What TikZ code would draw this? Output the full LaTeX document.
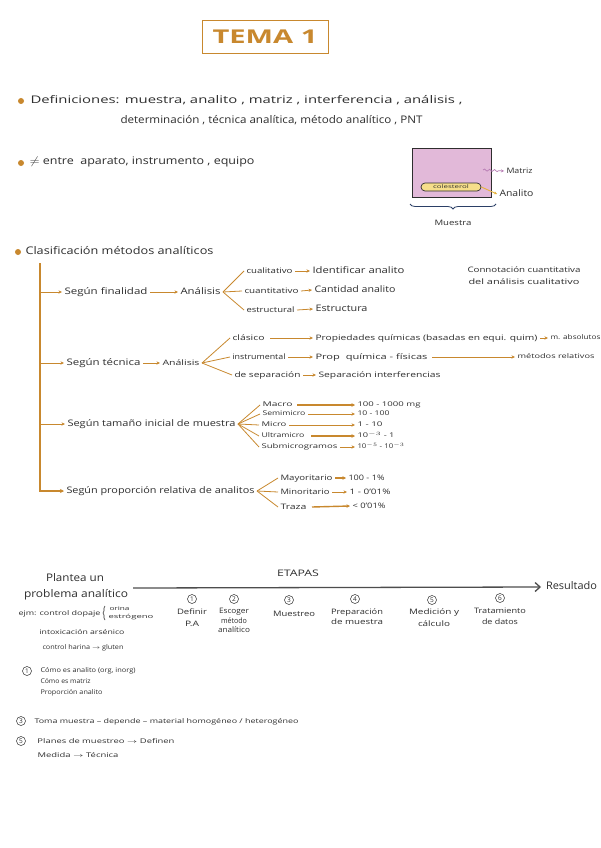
\documentclass[tikz,border=0pt]{standalone}
\usepackage{fontspec}
\setmainfont{Open Sans}
\usepackage{graphicx}
\usetikzlibrary{arrows.meta,decorations.pathmorphing,decorations.pathreplacing}
\definecolor{ora}{HTML}{C8882E}
\definecolor{ink}{HTML}{2E2E2E}
\definecolor{pinkf}{HTML}{E2B9D9}
\definecolor{yel}{HTML}{F6DE8A}
\definecolor{navy}{HTML}{2B3F66}
\definecolor{pinkarr}{HTML}{B77BB4}
\definecolor{yelarr}{HTML}{E6B23A}
\newsavebox\fwbox
\newcommand\fw[2]{\sbox\fwbox{#2}\pgfmathsetmacro\fwf{#1/\the\wd\fwbox}\scalebox{\fwf}[1]{\usebox\fwbox}}
\tikzset{
  base/.style={anchor=west, inner sep=0pt, outer sep=2.5pt, text=ink},
  tL/.style={base, font=\fontsize{10.5}{12}\selectfont, text height=7.5pt, text depth=2pt},
  tM/.style={base, font=\fontsize{9}{11}\selectfont, text height=6.5pt, text depth=1.8pt},
  tS/.style={base, font=\fontsize{7.5}{9}\selectfont, text height=5.5pt, text depth=1.5pt},
  tX/.style={base, font=\fontsize{6.5}{8}\selectfont, text height=4.8pt, text depth=1.3pt},
  stepl/.style={inner sep=0pt, align=center, text=ink},
  bul/.style={circle, fill=ora, inner sep=0pt, minimum size=6pt},
  numc/.style={circle, draw=ink, line width=0.5pt, inner sep=0pt, minimum size=9pt, font=\fontsize{6.5}{7}\selectfont, text=ink},
  arr/.style={draw=ora, line width=0.8pt, -{Stealth[length=3.5pt,width=3.2pt]}},
  tarr/.style={draw=ora, line width=1.4pt, -{Stealth[length=3.5pt,width=3.5pt]}},
  fork/.style={draw=ora, line width=0.8pt},
  trunk/.style={draw=ora, line width=1.3pt},
  bigarr/.style={draw=ink!85, line width=1.3pt, -{Straight Barb[length=5pt,width=9pt]}},
}
\begin{document}
\begin{tikzpicture}[x=1pt,y=-1pt]
\useasboundingbox (0,0) rectangle (600,848);
\fill[white] (0,0) rectangle (600,848);

% title
\node[draw=ora, line width=0.9pt, minimum width=126pt, minimum height=33pt, inner sep=0pt,
      text=ora, font=\fontsize{19}{20}\selectfont\bfseries] (title) at (265,37) {\fw{105}{TEMA 1}};

% definiciones
\node[bul] (b1) at (21,101) {};
\node[tL] (def1) at (28,101) {\fw{432}{Definiciones: muestra, analito , matriz , interferencia , análisis ,}};
\node[tL] (def2) at (118,121) {\fw{302}{determinación , técnica analítica, método analítico , PNT}};

% diferencias
\node[bul] (b2) at (21,163) {};
\node[tL] (neq) at (27,162) {\fw{225}{$\neq$ entre\ \ aparato, instrumento , equipo}};

% sample box
\node[draw=ink, fill=pinkf, line width=0.8pt, minimum width=79pt, minimum height=49pt, inner sep=0pt] (box) at (451.5,172.5) {};
\node[draw=ink, fill=yel, line width=0.7pt, rounded corners=4pt, minimum width=60pt, minimum height=8pt, inner sep=0pt,
      font=\fontsize{5}{5}\selectfont, text=ink] (col) at (451,187) {\fw{36}{colesterol}};
\node[tS] (matriz) at (504,171) {\fw{26}{Matriz}};
\node[tM] (analito) at (497,194) {\fw{34}{Analito}};
\coordinate (mw) at (483,170);
\draw[draw=pinkarr, line width=0.7pt, decorate, decoration={snake, amplitude=1pt, segment length=5pt, post length=3pt}, -{Stealth[length=3pt,width=3pt]}] (mw) -- (matriz.west);
\draw[draw=yelarr, line width=0.9pt, -{Stealth[length=3pt,width=3pt]}] (col.east) -- (analito.west);
\coordinate (brL) at (410,204);
\coordinate (brR) at (496,204);
\draw[navy, line width=0.8pt, decorate, decoration={brace, mirror, amplitude=5pt}] (brL) -- (brR);
\node[tS, anchor=center] (muestra) at (453,223) {\fw{37}{Muestra}};

% clasificacion
\node[bul] (b3) at (18,252) {};
\node[tL] (clas) at (23,252) {\fw{188}{Clasificación métodos analíticos}};
\coordinate (ttop) at (40,263);
\coordinate (t1) at (40,292);
\coordinate (t2) at (40,363);
\coordinate (t3) at (40,424);

% segun finalidad
\node[tM] (s1) at (62,292) {\fw{83}{Según finalidad}};
\node[tM] (an1) at (178,292) {\fw{40}{Análisis}};
\node[tS] (cual) at (244,271) {\fw{46}{cualitativo}};
\node[tS] (cuan) at (242,291) {\fw{54}{cuantitativo}};
\node[tS] (estr) at (244,310) {\fw{48}{estructural}};
\node[tM] (idf) at (310,271) {\fw{92}{Identificar analito}};
\node[tM] (cant) at (312,290) {\fw{81}{Cantidad analito}};
\node[tM] (estru) at (313,309) {\fw{52}{Estructura}};
\node[tS] (conn1) at (465,270) {\fw{113}{Connotación cuantitativa}};
\node[tS] (conn2) at (466,282) {\fw{111}{del análisis cualitativo}};

% segun tecnica
\node[tM] (s2) at (64,363) {\fw{74}{Según técnica}};
\node[tS] (an2) at (160,363) {\fw{37}{Análisis}};
\node[tS] (clasico) at (230,338) {\fw{32}{clásico}};
\node[tS] (inst) at (230,357) {\fw{53}{instrumental}};
\node[tS] (sep) at (232,375) {\fw{66}{de separación}};
\node[tS] (prop) at (313,338) {\fw{222}{Propiedades químicas (basadas en equi. quim)}};
\node[tX] (mabs) at (548,338) {\fw{50}{m. absolutos}};
\node[tS] (propq) at (313,357) {\fw{112}{Prop\ \ química - físicas}};
\node[tX] (mrel) at (515,357) {\fw{77}{métodos relativos}};
\node[tS] (sepi) at (316,375) {\fw{122}{Separación interferencias}};

% segun tamano
\node[tM] (s3) at (65,424) {\fw{168}{Según tamaño inicial de muestra}};
\node[tX] (macro) at (260,405) {\fw{30}{Macro}};
\node[tX] (semi) at (260,414) {\fw{43}{Semimicro}};
\node[tX] (micro) at (259,425) {\fw{25}{Micro}};
\node[tX] (ultra) at (259,436) {\fw{43}{Ultramicro}};
\node[tX] (sub) at (259,447) {\fw{76}{Submicrogramos}};
\node[tX] (v1) at (355,405) {\fw{63}{100 - 1000 mg}};
\node[tX] (v2) at (355,414) {\fw{32}{10 - 100}};
\node[tX] (v3) at (355,425) {\fw{25}{1 - 10}};
\node[tX] (v4) at (355,436) {\fw{37}{10$^{-3}$ - 1}};
\node[tX] (v5) at (355,447) {\fw{47}{10$^{-5}$ - 10$^{-3}$}};

% segun proporcion
\node[tM] (s4) at (64,491) {\fw{188}{Según proporción relativa de analitos}};
\node[tS] (may) at (278,478) {\fw{52}{Mayoritario}};
\node[tS] (min) at (278,492) {\fw{49}{Minoritario}};
\node[tS] (tra) at (278,507) {\fw{26}{Traza}};
\node[tS] (p1) at (346,478) {\fw{36}{100 - 1\%}};
\node[tS] (p2) at (347,492) {\fw{41}{1 - 0'01\%}};
\node[tS] (p3) at (350,506) {\fw{33}{< 0'01\%}};

% trunk and branches
\draw[trunk, -{Stealth[length=4pt,width=4pt]}] (ttop) |- (s4.west);
\draw[arr] (t1) -- (s1.west);
\draw[arr] (t2) -- (s2.west);
\draw[arr] (t3) -- (s3.west);

% finalidad connectors
\draw[arr] (s1.east) -- (an1.west);
\draw[fork] (an1.east) -- (cual.west);
\draw[fork] (an1.east) -- (cuan.west);
\draw[fork] (an1.east) -- (estr.west);
\draw[arr] (cual.east) -- (idf.west);
\draw[arr] (cuan.east) -- (cant.west);
\draw[arr] (estr.east) -- (estru.west);

% tecnica connectors
\draw[arr] (s2.east) -- (an2.west);
\draw[fork] (an2.east) -- (clasico.west);
\draw[fork] (an2.east) -- (inst.west);
\draw[fork] (an2.east) -- (sep.west);
\draw[arr] ([xshift=3pt]clasico.east) -- (prop.west);
\draw[arr] (inst.east) -- (propq.west);
\draw[arr] (sep.east) -- (sepi.west);
\draw[arr] (prop.east) -- (mabs.west);
\draw[arr] ([xshift=2pt]propq.east) -- (mrel.west);

% tamano connectors
\draw[fork] (s3.east) -- (macro.west);
\draw[fork] (s3.east) -- (semi.west);
\draw[fork] (s3.east) -- (micro.west);
\draw[fork] (s3.east) -- (ultra.west);
\draw[fork] (s3.east) -- (sub.west);
\draw[tarr] ([xshift=2pt]macro.east) -- (v1.west);
\draw[arr] (semi.east) -- (v2.west);
\draw[arr] (micro.east) -- (v3.west);
\draw[tarr] ([xshift=4pt]ultra.east) -- (v4.west);
\draw[arr] (sub.east) -- (v5.west);

% proporcion connectors
\draw[fork] (s4.east) -- (may.west);
\draw[fork] (s4.east) -- (min.west);
\draw[fork] (s4.east) -- (tra.west);
\draw[tarr] (may.east) -- (p1.west);
\draw[arr] (min.east) -- (p2.west);
\draw[tarr] ([xshift=3pt]tra.east) -- (p3.west);

% etapas
\node[tM, anchor=center] (etapas) at (298,574) {\fw{42}{ETAPAS}};
\node[tL, anchor=center] (plant1) at (75,579) {\fw{58}{Plantea un}};
\node[tL, anchor=center] (plant2) at (76,595) {\fw{104}{problema analítico}};
\node[tL, outer sep=5pt] (res) at (541,587) {\fw{51}{Resultado}};
\coordinate (lstart) at (133,588);
\draw[bigarr] (lstart) -- (res.west);

\node[tX] (ejm) at (16,614) {\fw{82}{ejm: control dopaje}};
\coordinate (ebB) at (105,620);
\coordinate (ebT) at (105,606);
\draw[ink, line width=0.6pt, decorate, decoration={brace, amplitude=2pt}] (ebB) -- (ebT);
\node[base, font=\fontsize{5.5}{6}\selectfont, text height=4pt, text depth=1pt] (orina) at (107,609) {\fw{20}{orina}};
\node[base, font=\fontsize{5.5}{6}\selectfont, text height=4pt, text depth=1pt] (estrog) at (106,617) {\fw{45}{estrógeno}};
\node[tX] (intox) at (37,633) {\fw{85}{intoxicación arsénico}};
\node[tX] (harina) at (40,648) {\fw{81}{control harina $\rightarrow$ gluten}};

% steps
\node[numc] (c1) at (192,599) {1};
\node[numc] (c2) at (234,599) {2};
\node[numc] (c3) at (289,600) {3};
\node[numc] (c4) at (355,599) {4};
\node[numc] (c5) at (432,600) {5};
\node[numc] (c6) at (500,598) {6};
\node[stepl, font=\fontsize{7.5}{12}\selectfont] (st1) at (192,618) {\fw{30}{Definir}\\\fw{14}{P.A}};
\node[stepl, font=\fontsize{7.5}{9.5}\selectfont] (st2) at (234,620.5) {\fw{30}{Escoger}\\\fw{26}{método}\\\fw{32}{analítico}};
\node[stepl, font=\fontsize{7.5}{10}\selectfont] (st3) at (294,614) {\fw{42}{Muestreo}};
\node[stepl, font=\fontsize{7.5}{10}\selectfont] (st4) at (357,617) {\fw{52}{Preparación}\\\fw{52}{de muestra}};
\node[stepl, font=\fontsize{7.5}{12}\selectfont] (st5) at (434,618) {\fw{50}{Medición y}\\\fw{32}{cálculo}};
\node[stepl, font=\fontsize{7.5}{11}\selectfont] (st6) at (500,616.5) {\fw{52}{Tratamiento}\\\fw{36}{de datos}};

% notes
\node[numc] (n1) at (27,671) {1};
\node[tX] (n1a) at (38,671) {\fw{95}{Cómo es analito (org, inorg)}};
\node[tX] (n1b) at (38,682) {\fw{50}{Cómo es matriz}};
\node[tX] (n1c) at (38,693) {\fw{62}{Proporción analito}};
\node[numc] (n3) at (21,721) {3};
\node[tX] (n3a) at (32,722) {\fw{264}{Toma muestra -- depende -- material homogéneo / heterogéneo}};
\node[numc] (n5) at (21,741) {5};
\node[tX] (n5a) at (35,742) {\fw{137}{Planes de muestreo $\rightarrow$ Definen}};
\node[tX] (n5b) at (35,756) {\fw{81}{Medida $\rightarrow$ Técnica}};
\end{tikzpicture}
\end{document}
